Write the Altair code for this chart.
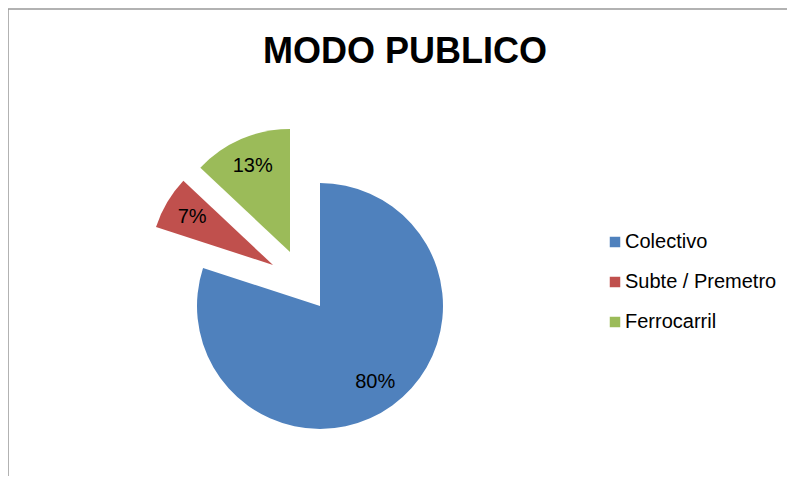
import math
import altair as alt
import pandas as pd

# ---- data ----
title_text = "MODO PUBLICO"
categories = ["Colectivo", "Subte / Premetro", "Ferrocarril"]
shares = [80, 7, 13]
colors = ["#4F81BD", "#C0504D", "#9BBB59"]

# ---- styling (explosion offsets per slice, in px) ----
explode = {"Colectivo": (0, 0), "Subte / Premetro": (-47, -41), "Ferrocarril": (-30, -54)}
FONT = "Liberation Sans, Arial, sans-serif"
TITLE_FONT = "Liberation Sans Narrow, Arial Narrow, Liberation Sans, sans-serif"
W, H = 779, 408
CX, CY, R = 312, 238, 123

df = pd.DataFrame({"modo": categories, "pct": shares, "order": list(range(len(categories)))})
df["label"] = df["pct"].astype(str) + "%"

base = alt.Chart(df).transform_window(
    end="sum(pct)", sort=[alt.SortField("order")], frame=[None, 0]
).transform_calculate(
    start="datum.end - datum.pct", mid="datum.end - datum.pct / 2"
)

theta_scale = alt.Scale(domain=[0, 100], range=[0, 2 * math.pi])
color = alt.Color(
    "modo:N",
    scale=alt.Scale(domain=categories, range=colors),
    legend=alt.Legend(
        title=None, orient="none", legendX=597, legendY=164,
        symbolType="square", symbolSize=110, symbolStrokeWidth=0,
        labelFont=FONT, labelFontSize=20, labelColor="#000",
        labelOffset=0, rowPadding=20,
    ),
)

layers = []
frame = alt.Chart(pd.DataFrame({"a": [0]}))
layers.append(frame.mark_rule(color="#999999", strokeWidth=1.5).encode(
    x=alt.value(0), x2=alt.value(W), y=alt.value(-59)))
layers.append(frame.mark_rule(color="#999999", strokeWidth=1.5).encode(
    x=alt.value(0), y=alt.value(-59), y2=alt.value(H)))

# chart title as a text mark inside the top padding
layers.append(alt.Chart(pd.DataFrame({"t": [title_text]})).mark_text(
    font=TITLE_FONT, fontSize=36, fontWeight="bold", color="#000",
    align="center", baseline="alphabetic",
).encode(text="t:N", x=alt.value(397), y=alt.value(-5)))

for cat in categories:
    dx, dy = explode[cat]
    sub = base.transform_filter(alt.datum.modo == cat)
    layers.append(sub.mark_arc(outerRadius=R, xOffset=dx, yOffset=dy).encode(
        theta=alt.Theta("start:Q", scale=theta_scale, stack=None),
        theta2="end:Q",
        color=color,
        x=alt.value(CX), y=alt.value(CY),
    ))
    layers.append(sub.mark_text(radius=94, xOffset=dx, yOffset=dy, font=FONT,
                                fontSize=20, color="#000").encode(
        theta=alt.Theta("mid:Q", scale=theta_scale, stack=None),
        text="label:N",
        x=alt.value(CX), y=alt.value(CY),
    ))

chart = alt.layer(*layers).properties(
    width=W, height=H,
    padding={"left": 0, "top": 60, "right": 0, "bottom": 0},
    autosize="none",
).configure_view(stroke=None)

chart.save("out.html", embed_options={"renderer": "svg", "actions": False})
